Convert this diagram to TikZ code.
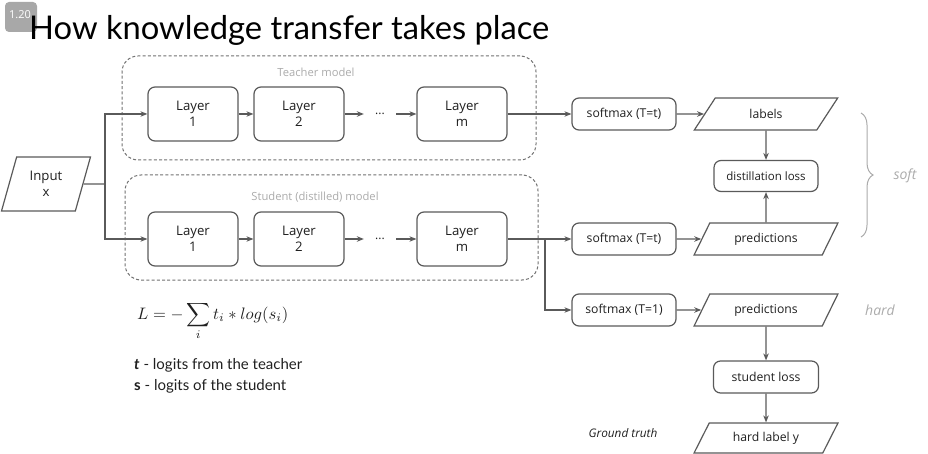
\documentclass[tikz,border=0pt]{standalone}
\usepackage{graphicx}
\usepackage{fontspec}
\newfontfamily\titlefont{Lato}
\newfontfamily\diag{Open Sans}
\newfontfamily\legfont{Lato}
\usetikzlibrary{arrows.meta,shapes.geometric,decorations.pathreplacing}
\definecolor{linec}{HTML}{5A5A5A}
\definecolor{textc}{HTML}{202020}
\definecolor{dashc}{HTML}{707070}
\definecolor{lightc}{HTML}{ABABAB}
\definecolor{badgec}{HTML}{A8A8A8}
\begin{document}
\begin{tikzpicture}[x=1pt,y=-1pt,
  line/.style={draw=linec, line width=1.2pt},
  arr/.style={line, -{Stealth[length=7pt,width=5.5pt]}},
  box/.style={draw=linec, line width=1.2pt, rounded corners=7pt, fill=white, text=textc, align=center, inner sep=0pt},
  layerbox/.style={box, minimum width=90pt, minimum height=54pt, font=\diag\fontsize{13.2}{16.5}\selectfont},
  smbox/.style={box, minimum width=104pt, minimum height=32pt, font=\diag\fontsize{12.2}{14}\selectfont},
  para/.style={trapezium, trapezium left angle=54, trapezium right angle=126, trapezium stretches=true,
     draw=linec, line width=1.2pt, fill=white, text=textc, inner sep=0pt,
     minimum width=144pt, minimum height=32pt, font=\diag\fontsize{12.2}{14}\selectfont},
  dashbox/.style={draw=dashc, line width=1pt, dash pattern=on 3pt off 2.2pt, rounded corners=16pt},
  grouplabel/.style={text=lightc, font=\diag\fontsize{11.2}{13}\selectfont},
  dotsnode/.style={minimum width=32pt, inner sep=0pt, text=textc, font=\diag\fontsize{12}{14}\selectfont},
  sidelabel/.style={text=lightc, font=\diag\itshape\fontsize{14}{17}\selectfont},
  legend/.style={anchor=west, text=textc, font=\legfont\fontsize{15}{18}\selectfont, inner sep=0pt}
]
\useasboundingbox (0,0) rectangle (928,454);

% badge and title
\node[fill=badgec, rounded corners=4pt, minimum width=32pt, minimum height=30pt, inner sep=0pt] (badge) at (21,17) {};
\node[text=white, font=\diag\fontsize{11}{13}\selectfont, inner sep=0pt] (badgetxt) at (20,15) {1.20};
\node[anchor=base west, inner sep=0pt, text=black, font=\titlefont\fontsize{32.7}{40}\selectfont] (title) at (29,40) {How knowledge transfer takes place};

% group boxes
\node[dashbox, minimum width=414pt, minimum height=104pt] (tbox) at (329,108) {};
\node[dashbox, minimum width=413pt, minimum height=105pt] (sbox) at (331.5,227.5) {};
\node[grouplabel] (tlab) at (316,72) {Teacher model};
\node[grouplabel] (slab) at (315,197) {Student (distilled) model};

% input
\node[trapezium, trapezium left angle=72, trapezium right angle=108, trapezium stretches=true,
      draw=linec, line width=1.2pt, fill=white, text=textc, align=center, inner sep=0pt,
      minimum width=89pt, minimum height=54pt, font=\diag\fontsize{13.2}{16.5}\selectfont] (input) at (46,184) {Input\\x};
\coordinate (br) at (105,184);

% teacher layers
\node[layerbox] (t1) at (193,114) {Layer\\1};
\node[layerbox] (t2) at (299,114) {Layer\\2};
\node[dotsnode] (td) at (380,114) {...};
\node[layerbox] (tm) at (462,114) {Layer\\m};

% student layers
\node[layerbox] (s1) at (193,239) {Layer\\1};
\node[layerbox] (s2) at (299,239) {Layer\\2};
\node[dotsnode] (sd) at (380,239) {...};
\node[layerbox] (sm) at (462,239) {Layer\\m};
\coordinate (sb) at (545,239);

% right side
\node[smbox] (st1) at (624,114) {softmax (T=t)};
\node[smbox] (st2) at (624,239) {softmax (T=t)};
\node[smbox] (sh) at (624,310) {softmax (T=1)};
\node[para] (lab) at (766,114) {labels};
\node[para] (pred1) at (766,239) {predictions};
\node[para] (pred2) at (766,310) {predictions};
\node[para, minimum height=30pt] (hardy) at (766,438) {hard label y};
\node[smbox, minimum width=104pt, minimum height=31pt, font=\diag\fontsize{11.5}{13}\selectfont] (dl) at (766,176) {distillation loss};
\node[smbox, minimum width=105pt, minimum height=32pt] (sl) at (766,377) {student loss};

% connectors
\draw[line] (input.east) -- (br);
\draw[arr] (br) |- (t1.west);
\draw[arr] (br) |- (s1.west);
\draw[arr] (t1) -- (t2);
\draw[arr] (t2) -- (td);
\draw[arr] (td) -- (tm);
\draw[arr] (s1) -- (s2);
\draw[arr] (s2) -- (sd);
\draw[arr] (sd) -- (sm);
\draw[arr] (tm) -- (st1);
\draw[arr] (sm) -- (st2);
\draw[arr] (sb) |- (sh.west);
\draw[arr] (st1) -- (lab.west);
\draw[arr] (st2) -- (pred1.west);
\draw[arr] (sh) -- (pred2.west);
\draw[arr] (lab.south) -- (dl.north);
\draw[arr] (pred1.north) -- (dl.south);
\draw[arr] (pred2.south) -- (sl.north);
\draw[arr] (sl.south) -- (hardy.north);

% brace and side labels
\coordinate (bt) at (861,113);
\coordinate (bb) at (861,237);
\draw[draw=lightc, line width=1pt, decorate, decoration={brace, amplitude=12pt}] (bt) -- (bb);
\node[sidelabel] (soft) at (905,176) {soft};
\node[sidelabel] (hard) at (880,310) {hard};
\node[text=textc, font=\diag\itshape\fontsize{11.8}{14}\selectfont] (gt) at (623,433) {Ground truth};

% formula and legend
\node[anchor=west, inner sep=0pt, text=textc] (formula) at (137,321) {\scalebox{1.66}{$\displaystyle L = -\sum_i t_i \ast log(s_i)$}};
\node[legend] (leg1) at (134,365) {\textbf{\textit{t}} - logits from the teacher};
\node[legend] (leg2) at (134,386) {\textbf{s} - logits of the student};
\end{tikzpicture}
\end{document}
